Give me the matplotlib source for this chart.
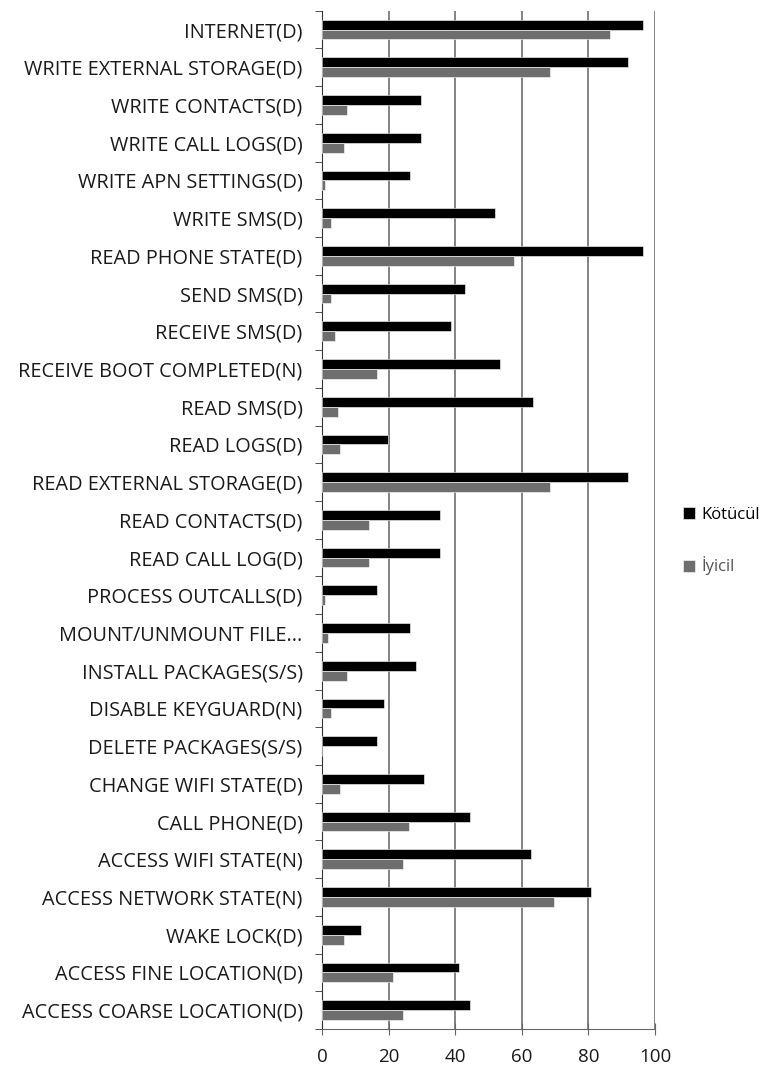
import numpy as np
import matplotlib
matplotlib.use("Agg")
import matplotlib.pyplot as plt

# categories listed bottom -> top
categories = [
    "ACCESS COARSE LOCATION(D)", "ACCESS FINE LOCATION(D)", "WAKE LOCK(D)",
    "ACCESS NETWORK STATE(N)", "ACCESS WIFI STATE(N)", "CALL PHONE(D)",
    "CHANGE WIFI STATE(D)", "DELETE PACKAGES(S/S)", "DISABLE KEYGUARD(N)",
    "INSTALL PACKAGES(S/S)", "MOUNT/UNMOUNT FILE...", "PROCESS OUTCALLS(D)",
    "READ CALL LOG(D)", "READ CONTACTS(D)", "READ EXTERNAL STORAGE(D)",
    "READ LOGS(D)", "READ SMS(D)", "RECEIVE BOOT COMPLETED(N)",
    "RECEIVE SMS(D)", "SEND SMS(D)", "READ PHONE STATE(D)", "WRITE SMS(D)",
    "WRITE APN SETTINGS(D)", "WRITE CALL LOGS(D)", "WRITE CONTACTS(D)",
    "WRITE EXTERNAL STORAGE(D)", "INTERNET(D)",
]
kotucul = [44.5, 41.2, 11.7, 80.7, 62.7, 44.5, 30.7, 16.5, 18.6, 28.1, 26.5, 16.5,
           35.4, 35.4, 91.8, 19.7, 63.4, 53.4, 38.6, 42.8, 96.5, 51.8, 26.5, 29.6,
           29.6, 91.8, 96.5]
iyicil = [24.4, 21.3, 6.5, 69.6, 24.4, 26.0, 5.5, 0.0, 2.8, 7.5, 1.7, 0.8,
          14.2, 14.2, 68.4, 5.5, 4.9, 16.4, 3.9, 2.8, 57.6, 2.8, 0.8, 6.5,
          7.5, 68.4, 86.5]

plt.rcParams['font.family'] = ['Open Sans', 'DejaVu Sans']

fig = plt.figure(figsize=(7.67, 10.73), dpi=100)
ax = fig.add_axes([0.42, 0.041, 0.434, 0.949])

y = np.arange(len(categories))
h = 0.26
ax.barh(y + h / 2, kotucul, height=h, color='black', label='Kötücül',
        edgecolor='white', linewidth=0.4, zorder=3)
ax.barh(y - h / 2, iyicil, height=h, color='#6e6e6e', label='İyicil',
        edgecolor='white', linewidth=0.4, zorder=3)

ax.set_xlim(0, 100)
ax.set_ylim(-0.5, len(categories) - 0.5)
ax.set_xticks(range(0, 101, 20))
ax.set_yticks(y)
ax.set_yticklabels(categories, fontsize=14.3, color='#1a1a1a')
ax.set_yticks(np.arange(-0.5, len(categories), 1), minor=True)
ax.tick_params(axis='y', which='major', length=0, pad=14)
ax.tick_params(axis='y', which='minor', length=5, color='#333333')
ax.tick_params(axis='x', labelsize=13.5, direction='inout', length=9,
               color='#666666', labelcolor='#1a1a1a', pad=9)

ax.grid(axis='x', color='#7a7a7a', linewidth=1.3, zorder=0)
for s in ['top', 'right']:
    ax.spines[s].set_visible(False)
ax.spines['left'].set_color('#333333')
ax.spines['bottom'].set_color('#666666')

leg = ax.legend(loc='center left', bbox_to_anchor=(1.084, 0.479), frameon=False,
                fontsize=12, handlelength=0.75, handleheight=0.75,
                handletextpad=0.35, labelspacing=2.0,
                borderpad=0, borderaxespad=0)
leg.get_texts()[1].set_color('#555555')

fig.savefig('out.png', dpi=100)
